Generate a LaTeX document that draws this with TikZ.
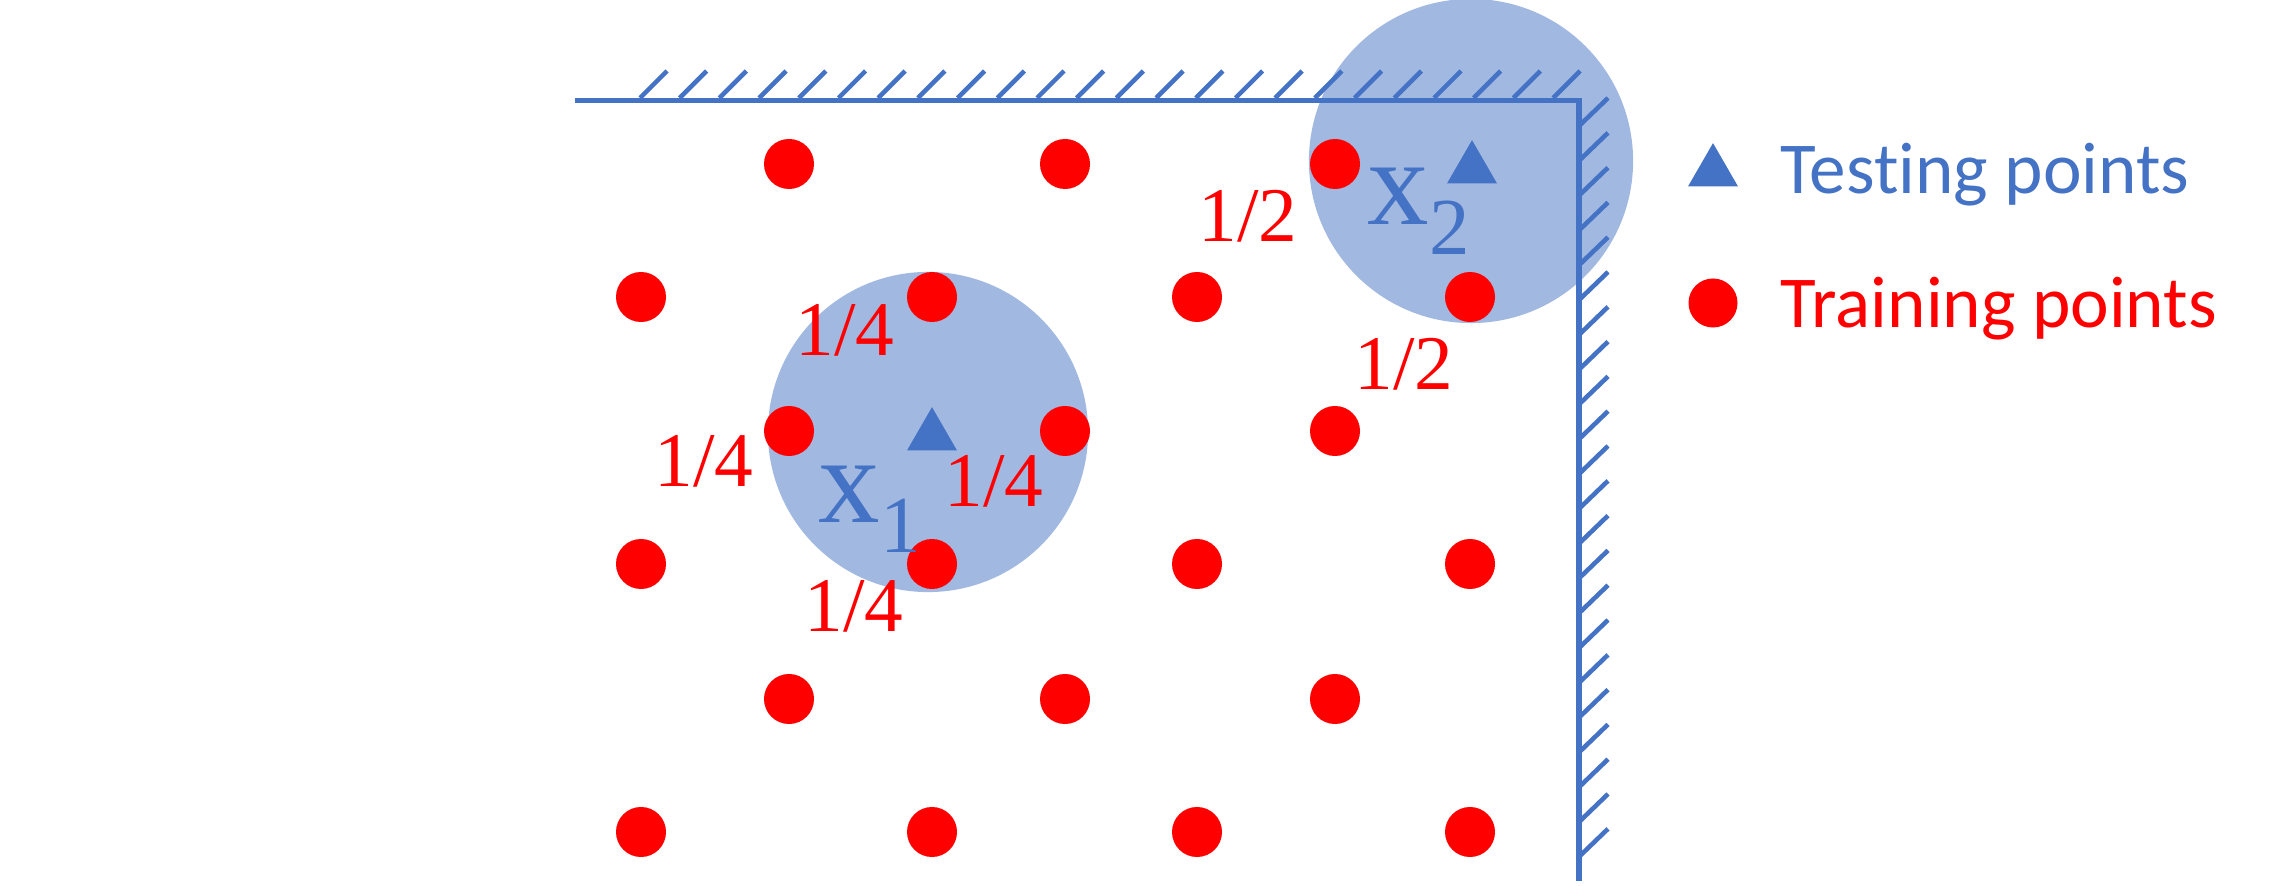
\documentclass[tikz,border=0pt]{standalone}
\usepackage{fontspec}
\setmainfont{Liberation Serif}
\newfontfamily\legendfont[RawFeature={-liga;-clig;-calt}]{Carlito}
\usetikzlibrary{shapes.geometric}

\definecolor{wallblue}{HTML}{4472C4}
\definecolor{ptred}{HTML}{FF0000}

\tikzset{
    train/.style={circle, fill=ptred, inner sep=0pt, minimum size=0.5cm},
    test/.style={regular polygon, regular polygon sides=3, fill=wallblue, inner sep=0pt, minimum size=0.577cm},
    halo/.style={circle, fill=wallblue, fill opacity=0.5, inner sep=0pt},
    wall/.style={draw=wallblue, line width=1.45pt},
    hatch/.style={draw=wallblue, line width=1.3pt},
    weight/.style={text=ptred, inner sep=0pt, font=\fontsize{22}{22}\selectfont},
    xlab/.style={text=wallblue, inner sep=0pt, anchor=base west, font=\fontsize{35}{35}\selectfont},
    legend/.style={inner sep=0pt, anchor=base west, font=\legendfont\fontsize{20.8}{24}\selectfont},
}

\begin{document}
\begin{tikzpicture}[x=0.01cm, y=-0.01cm]
    \useasboundingbox (0,0) rectangle (2273,886);

    % neighbourhoods of the two testing points
    \node[halo, minimum size=3.2cm]  at (928,432)  (h1) {};
    \node[halo, minimum size=3.24cm] at (1471,161) (h2) {};

    % the walls
    \coordinate (wl) at (575,100.5);
    \coordinate (corner) at (1579,100.5);
    \coordinate (wb) at (1579,881);
    \draw[wall] (wl) -- (corner) -- (wb);
    \foreach \i in {0,...,23}
        \draw[hatch] ({640+39.7*\i},98) -- ++(27,-27);
    \foreach \i in {0,...,21}
        \draw[hatch] (1580,{125+34.8*\i}) -- ++(28,-27);

    % training points
    \node[train] at (789,164)  (a1) {};
    \node[train] at (1065,164) (a2) {};
    \node[train] at (1335,164) (a3) {};
    \node[train] at (641,297)  (b1) {};
    \node[train] at (932,297)  (b2) {};
    \node[train] at (1197,297) (b3) {};
    \node[train] at (1470,297) (b4) {};
    \node[train] at (789,431)  (c1) {};
    \node[train] at (1065,431) (c2) {};
    \node[train] at (1335,431) (c3) {};
    \node[train] at (641,564)  (d1) {};
    \node[train] at (932,564)  (d2) {};
    \node[train] at (1197,564) (d3) {};
    \node[train] at (1470,564) (d4) {};
    \node[train] at (789,699)  (e1) {};
    \node[train] at (1065,699) (e2) {};
    \node[train] at (1335,699) (e3) {};
    \node[train] at (641,832)  (f1) {};
    \node[train] at (932,832)  (f2) {};
    \node[train] at (1197,832) (f3) {};
    \node[train] at (1470,832) (f4) {};

    % testing points
    \node[test] at (932,436)  (x1) {};
    \node[test] at (1472,169) (x2) {};
    \node[xlab] at (818,523)  (lx1) {x\raisebox{-8.5pt}{\fontsize{23}{23}\selectfont 1}};
    \node[xlab] at (1367,225) (lx2) {x\raisebox{-8.5pt}{\fontsize{23}{23}\selectfont 2}};

    % weights
    \node[weight] at (845,330)  (w1) {1/4};
    \node[weight] at (704,461)  (w2) {1/4};
    \node[weight] at (994,481)  (w3) {1/4};
    \node[weight] at (854,606)  (w4) {1/4};
    \node[weight] at (1248,216) (w5) {1/2};
    \node[weight] at (1404,364) (w6) {1/2};

    % legend
    \node[test] at (1713,172) (ltest) {};
    \node[train, minimum size=0.49cm] at (1713,303) (ltrain) {};
    \node[legend, text=wallblue] at (1780,194) (ttest) {Testing points};
    \node[legend, text=ptred] at (1780,328) (ttrain) {Training points};
\end{tikzpicture}
\end{document}
